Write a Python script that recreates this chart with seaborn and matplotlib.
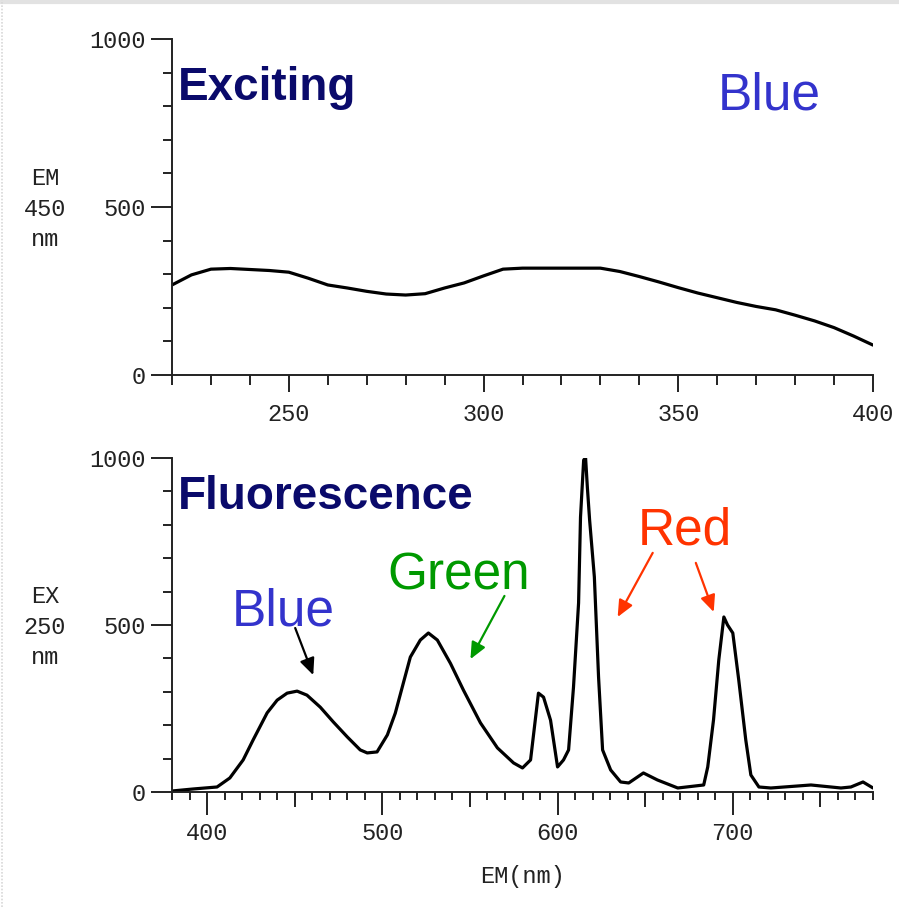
import matplotlib
matplotlib.use("Agg")
import matplotlib.pyplot as plt
import seaborn as sns
import pandas as pd
from matplotlib.ticker import MultipleLocator, FixedLocator, NullFormatter
from matplotlib.lines import Line2D

# ---- data ----
ex_wavelength = [220, 225, 230, 235, 240, 245, 250, 255, 260, 265, 270, 275, 280, 285,
                 290, 295, 300, 305, 310, 315, 320, 325, 330, 335, 340, 345, 350, 355,
                 360, 365, 370, 375, 380, 385, 390, 395, 400]
ex_intensity = [268, 298, 315, 317, 314, 311, 306, 288, 268, 259, 249, 241, 238, 242,
                259, 274, 295, 315, 318, 318, 318, 318, 318, 308, 293, 277, 260, 244,
                230, 216, 204, 194, 178, 161, 141, 116, 89]

fl_wavelength = [380, 392, 405.7, 413, 420.6, 426.3, 434.3, 440, 445.7, 451.4, 457, 464.6,
                 472, 480, 487.4, 491.4, 497, 502.9, 507.4, 512, 516, 521.7, 526.3, 531.4,
                 538.9, 546.3, 556, 565.7, 574.9, 580, 584.6, 589.1, 592, 596, 600, 603.4,
                 606.3, 609.1, 612, 613.1, 614.9, 616, 617, 618.3, 621, 623.4, 625.7, 630.3,
                 636, 640.6, 649, 657, 668.6, 683.4, 685.7, 689, 692, 694.9, 697, 700,
                 703.4, 707.4, 710.3, 714.9, 721.7, 744.6, 761.7, 767.4, 774.3, 780]
fl_intensity = [3, 9, 15, 42, 96, 156, 237, 275, 296, 302, 290, 254,
                210, 165, 126, 117, 120, 171, 236, 326, 404, 455, 476, 455,
                385, 305, 207, 132, 87, 72, 96, 296, 284, 215, 75, 96,
                126, 314, 566, 823, 994, 1000, 913, 814, 644, 344, 126, 66,
                30, 27, 57, 36, 12, 21, 75, 216, 395, 524, 500, 476,
                335, 156, 51, 15, 12, 21, 12, 15, 30, 12]

y_ticks = [0, 500, 1000]
ex_xticks = [250, 300, 350, 400]
fl_xticks = [400, 500, 600, 700]

ex_df = pd.DataFrame({"wavelength": ex_wavelength, "intensity": ex_intensity})
fl_df = pd.DataFrame({"wavelength": fl_wavelength, "intensity": fl_intensity})

sns.set_style("ticks")
plt.rcParams["font.family"] = ["DejaVu Sans"]

W, H = 899, 907
fig = plt.figure(figsize=(W / 100, H / 100), dpi=100)
fig.patch.set_facecolor("white")

ax1 = fig.add_axes([172 / W, 1 - 375 / H, 701 / W, 336 / H])
ax2 = fig.add_axes([172 / W, 1 - 792 / H, 701 / W, 334 / H])

sns.lineplot(data=ex_df, x="wavelength", y="intensity", ax=ax1, color="black",
             lw=2.3, estimator=None, sort=False)
sns.lineplot(data=fl_df, x="wavelength", y="intensity", ax=ax2, color="black",
             lw=2.3, estimator=None, sort=False)

tick_font = dict(family="Liberation Mono", size=17)
axis_col = "#222222"

for ax in (ax1, ax2):
    ax.set_ylim(0, 1000)
    ax.set_xlabel("")
    ax.set_ylabel("")
    for s in ("top", "right"):
        ax.spines[s].set_visible(False)
    for s in ("left", "bottom"):
        ax.spines[s].set_color(axis_col)
        ax.spines[s].set_linewidth(1.4)
    ax.yaxis.set_major_locator(FixedLocator(y_ticks))
    ax.yaxis.set_minor_locator(MultipleLocator(100))
    ax.tick_params(axis="both", which="both", left=True, bottom=True,
                   top=False, right=False)
    ax.tick_params(axis="y", which="major", length=15, width=1.4, color=axis_col,
                   direction="out", pad=4, labelcolor="#222222")
    ax.tick_params(axis="y", which="minor", length=6.5, width=1.4, color=axis_col,
                   direction="out")
    ax.set_yticklabels([str(v) for v in y_ticks], fontdict=tick_font)
    ax.patch.set_alpha(0)

# top axis x
ax1.set_xlim(220, 400)
ax1.xaxis.set_major_locator(FixedLocator(ex_xticks))
ax1.xaxis.set_minor_locator(MultipleLocator(10))
ax1.tick_params(axis="x", which="major", length=12, width=1.4, color=axis_col,
                direction="out", pad=8, labelcolor="#222222")
ax1.tick_params(axis="x", which="minor", length=7, width=1.4, color=axis_col,
                direction="out")
ax1.set_xticklabels([str(v) for v in ex_xticks], fontdict=tick_font)

# bottom axis x
ax2.set_xlim(380, 780)
ax2.xaxis.set_major_locator(FixedLocator(fl_xticks))
ax2.xaxis.set_minor_locator(MultipleLocator(10))
ax2.tick_params(axis="x", which="major", length=16.5, width=1.4, color=axis_col,
                direction="out", pad=5, labelcolor="#222222")
ax2.tick_params(axis="x", which="minor", length=6, width=1.4, color=axis_col,
                direction="out")
ax2.set_xticklabels([str(v) for v in fl_xticks], fontdict=tick_font)
sec = ax2.secondary_xaxis("bottom")
sec.xaxis.set_major_locator(FixedLocator([450, 550, 650, 750]))
sec.xaxis.set_major_formatter(NullFormatter())
sec.tick_params(axis="x", which="major", length=11, width=1.4, color=axis_col,
                direction="out")
sec.xaxis.set_minor_locator(FixedLocator([]))
sec.spines["bottom"].set_visible(False)

# axis side labels
lab_font = dict(family="Liberation Mono", size=17, color="#222222")
fig.text(45 / W, 1 - 209 / H, "EM\n450\nnm", ha="center", va="center",
         linespacing=1.4, **lab_font)
fig.text(45 / W, 1 - 627 / H, "EX\n250\nnm", ha="center", va="center",
         linespacing=1.4, **lab_font)
fig.text(522 / W, 1 - 876 / H, "EM(nm)", ha="center", va="center", **lab_font)

# titles and annotations
navy = "#0a0a6b"
blue = "#3333cc"
green = "#009900"
red = "#ff3300"
title_font = dict(family="Liberation Sans", size=33, weight="bold", color=navy)
word_font = dict(family="Liberation Sans", size=37)

ax1.text(221.5, 818, "Exciting", va="baseline", ha="left", **title_font)
ax1.text(360.1, 789, "Blue", va="baseline", ha="left", color=blue, **word_font)

ax2.text(383.4, 847, "Fluorescence", va="baseline", ha="left", **title_font)
ax2.text(414.3, 500, "Blue", va="baseline", ha="left", color=blue, **word_font)
ax2.text(502.9, 605, "Green", va="baseline", ha="left", color=green, **word_font)
ax2.text(645.7, 740, "Red", va="baseline", ha="left", color=red, **word_font)

def arrow(ax, xy_from, xy_to, col):
    ax.annotate("", xy=xy_to, xytext=xy_from, xycoords="data", textcoords="data",
                arrowprops=dict(arrowstyle="-|>,head_length=1.0,head_width=0.45",
                                color=col, lw=1.6, shrinkA=0, shrinkB=0))

arrow(ax2, (450.3, 491), (460.6, 350), "black")
arrow(ax2, (569.7, 587), (550.3, 398), green)
arrow(ax2, (654.3, 716), (634.3, 524), red)
arrow(ax2, (678.9, 686), (689.1, 539), red)

# light grey page frame (top band and dotted left edge)
fig.add_artist(Line2D([0, 1], [1 - 2 / H, 1 - 2 / H], transform=fig.transFigure,
                      color="#e2e2e2", lw=3))
fig.add_artist(Line2D([2 / W, 2 / W], [0, 1], transform=fig.transFigure,
                      color="#d8d8d8", lw=1.2, ls=(0, (1, 1))))

fig.savefig("out.png", dpi=100, facecolor="white")
